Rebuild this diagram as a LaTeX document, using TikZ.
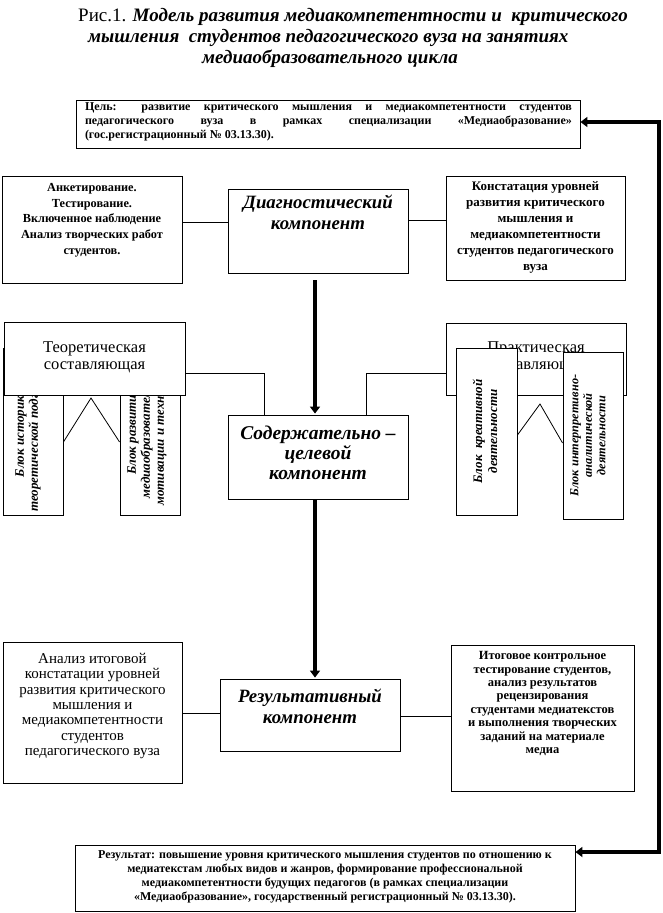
\documentclass[tikz,border=0pt]{standalone}
\usepackage{fontspec}
\setmainfont{Liberation Serif}
\usetikzlibrary{arrows.meta}
\tikzset{
  box/.style={draw, line width=0.9pt, fill=white, inner sep=0pt},
  btxt/.style={inner sep=0pt, align=center, font=\bfseries\fontsize{12.3}{15.7}\selectfont},
  rtxt/.style={inner sep=0pt, align=center, font=\fontsize{15}{15.3}\selectfont},
  comp/.style={inner sep=0pt, align=center, font=\bfseries\itshape\fontsize{18.8}{21}\selectfont},
  vtxt/.style={rotate=90, inner sep=0pt, align=center, font=\bfseries\itshape\fontsize{13}{14}\selectfont},
  conn/.style={line width=0.8pt},
  flow/.style={line width=4pt, -{Triangle[length=7pt,width=10pt]}},
  ttl/.style={inner sep=0pt, font=\bfseries\itshape\fontsize{19}{21}\selectfont},
}
\begin{document}
\begin{tikzpicture}[x=1pt,y=-1pt]
\useasboundingbox (0,0) rectangle (663,913);
% title
\node[ttl, anchor=west] (t1) at (78,17) {{\mdseries\upshape Рис.1.} Модель развития медиакомпетентности и\ \ критического};
\node[ttl, anchor=west] (t2) at (88,38) {мышления\ \ студентов педагогического вуза на занятиях};
\node[ttl] (t3) at (330,59) {медиаобразовательного цикла};
% goal
\node[box, minimum width=504, minimum height=48] (goal) at (328,124) {};
\node[inner sep=0pt, text width=487pt, align=justify, font=\bfseries\fontsize{12}{14}\selectfont] (goaltxt) at (328.5,122)
 {Цель: развитие критического мышления и медиакомпетентности студентов\linebreak педагогического вуза в рамках специализации «Медиаобразование»\linebreak (гос.регистрационный № 03.13.30).};
% diagnostic row
\node[box, minimum width=180, minimum height=107] (ank) at (92,229.5) {};
\node[btxt] (anktxt) at (92,220) {Анкетирование.\\Тестирование.\\Включенное наблюдение\\Анализ творческих работ\\студентов.};
\node[box, minimum width=180, minimum height=84] (diag) at (318,231) {};
\node[comp] (diagtxt) at (318,212) {Диагностический\\компонент};
\node[box, minimum width=179, minimum height=104] (konst) at (535.5,228) {};
\node[btxt, font=\bfseries\fontsize{13}{16}\selectfont] (konsttxt) at (535.5,227) {Констатация уровней\\развития критического\\мышления и\\медиакомпетентности\\студентов педагогического\\вуза};
\draw[conn] ([yshift=7.5pt]ank.east) -- ([yshift=7.5pt]ank.east -| diag.west);
\draw[conn] ([yshift=8pt]konst.west) -- ([yshift=8pt]konst.west -| diag.east);
% theoretical part
\node[box, minimum width=60, minimum height=167] (b1) at (33,431.5) {};
\node[box, minimum width=60, minimum height=167] (b2) at (150,431.5) {};
\begin{scope}
\clip (b1.south west) rectangle (b1.north east);
\node[vtxt] (b1txt) at (28,431.5) {Блок историко-\\теоретической подготовки};
\end{scope}
\begin{scope}
\clip (b2.south west) rectangle (b2.north east);
\node[vtxt] (b2txt) at (147,431.5) {Блок развития\\медиаобразовательной\\мотивации и технологий};
\end{scope}
\coordinate (p1) at (91,398);
\draw[conn] ([yshift=-10.5pt]b1.east) -- (p1) -- ([yshift=-10.5pt]b2.west);
\node[box, minimum width=181, minimum height=73] (theor) at (94.5,358.5) {};
\node[rtxt, font=\fontsize{16.5}{17}\selectfont] (theortxt) at (94.5,357) {Теоретическая\\составляющая};
% practical part
\node[box, minimum width=180, minimum height=72] (prak) at (536,359) {};
\node[rtxt, font=\fontsize{16.5}{17}\selectfont] (praktxt) at (536,357) {Практическая\\составляющая};
\node[box, minimum width=61, minimum height=167] (b3) at (486.5,431.5) {};
\node[vtxt, font=\bfseries\itshape\fontsize{13}{15}\selectfont] (b3txt) at (485,431.5) {Блок\ \ креативной\\деятельности};
\node[box, minimum width=60, minimum height=167] (b4) at (593,435.5) {};
\node[vtxt, font=\bfseries\itshape\fontsize{12.3}{13.5}\selectfont] (b4txt) at (588,435.5) {Блок интерпретивно-\\аналитической\\деятельности};
\coordinate (p2) at (540,404);
\draw[conn] ([yshift=-3.5pt]b3.east) -- (p2) -- ([yshift=-7.5pt]b4.west);
% content component
\node[box, minimum width=180, minimum height=84] (cont) at (318,457) {};
\node[comp, font=\bfseries\itshape\fontsize{19.5}{20}\selectfont] (conttxt) at (318,453) {Содержательно –\\целевой\\компонент};
\draw[conn] ([yshift=-14.5pt]theor.east) -| ([xshift=-54pt]cont.north);
\draw[conn] ([xshift=48pt]cont.north) |- ([yshift=-14pt]prak.west);
\draw[flow] ([xshift=-3pt,yshift=-7pt]diag.south) -- ([xshift=-3pt,yshift=1pt]cont.north);
% result component row
\node[box, minimum width=180, minimum height=72] (resc) at (310,715) {};
\node[comp] (resctxt) at (310,706) {Результативный\\компонент};
\draw[flow] ([xshift=-3pt]cont.south) -- ([xshift=5pt,yshift=1pt]resc.north);
\node[box, minimum width=179, minimum height=141] (anal) at (92.5,712.5) {};
\node[rtxt] (analtxt) at (92.5,706) {Анализ итоговой\\констатации уровней\\развития критического\\мышления и\\медиакомпетентности\\студентов\\педагогического вуза};
\node[box, minimum width=183, minimum height=146] (itog) at (542.5,718) {};
\node[btxt, font=\bfseries\fontsize{12.5}{13.4}\selectfont] (itogtxt) at (542.5,703.5) {Итоговое контрольное\\тестирование студентов,\\анализ результатов\\рецензирования\\студентами медиатекстов\\и выполнения творческих\\заданий на материале\\медиа};
\draw[conn] ([yshift=-0.5pt]anal.east) -- ([yshift=-0.5pt]anal.east -| resc.west);
\draw[conn] ([yshift=1.5pt]itog.west) -- ([yshift=1.5pt]itog.west -| resc.east);
% result box
\node[box, minimum width=500, minimum height=66] (resb) at (325,878) {};
\node[btxt, font=\bfseries\fontsize{12}{14}\selectfont] (resbtxt) at (325,877) {Результат: повышение уровня критического мышления студентов по отношению к\\медиатекстам любых видов и жанров, формирование профессиональной\\медиакомпетентности будущих педагогов (в рамках специализации\\«Медиаобразование», государственный регистрационный № 03.13.30).};
% feedback arrows
\coordinate (rt) at (659,122);
\coordinate (rb) at (659,852);
\draw[flow] (rb) -- (rt) -- (goal.east |- rt);
\draw[flow] (rt) -- (rb) -- (resb.east |- rb);
\end{tikzpicture}
\end{document}
